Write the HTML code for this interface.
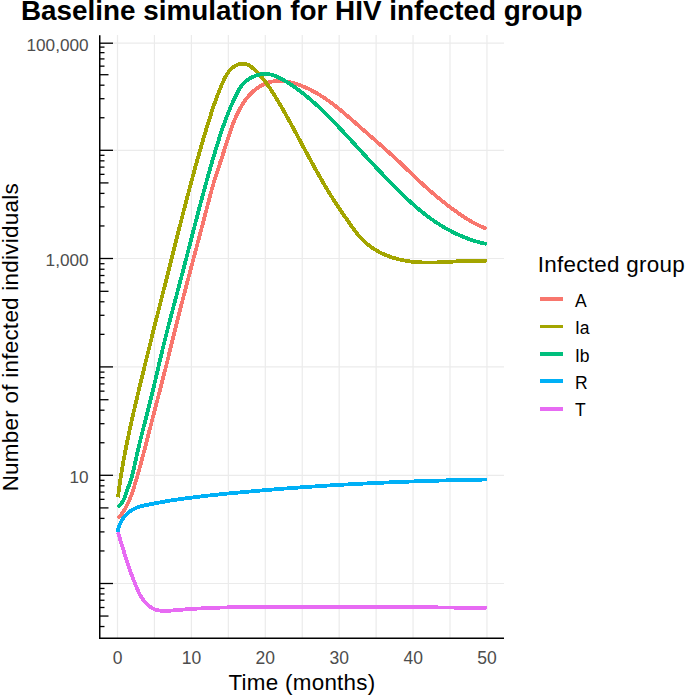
<!DOCTYPE html>
<html><head><meta charset="utf-8"><title>Baseline simulation for HIV infected group</title>
<style>html,body{margin:0;padding:0;background:#fff;}body{width:685px;height:695px;overflow:hidden;}svg{display:block;}text{font-family:"Liberation Sans",sans-serif;}</style>
</head><body>
<svg width="685" height="695" viewBox="0 0 685 695"><g stroke="#EBEBEB" stroke-width="1.2"><line x1="117.50" y1="35" x2="117.50" y2="638"/><line x1="154.44" y1="35" x2="154.44" y2="638"/><line x1="191.39" y1="35" x2="191.39" y2="638"/><line x1="228.34" y1="35" x2="228.34" y2="638"/><line x1="265.28" y1="35" x2="265.28" y2="638"/><line x1="302.23" y1="35" x2="302.23" y2="638"/><line x1="339.17" y1="35" x2="339.17" y2="638"/><line x1="376.12" y1="35" x2="376.12" y2="638"/><line x1="413.06" y1="35" x2="413.06" y2="638"/><line x1="450.00" y1="35" x2="450.00" y2="638"/><line x1="486.95" y1="35" x2="486.95" y2="638"/><line x1="99" y1="583.50" x2="504" y2="583.50"/><line x1="99" y1="475.30" x2="504" y2="475.30"/><line x1="99" y1="366.90" x2="504" y2="366.90"/><line x1="99" y1="258.50" x2="504" y2="258.50"/><line x1="99" y1="150.30" x2="504" y2="150.30"/><line x1="99" y1="43.20" x2="504" y2="43.20"/></g>
<path d="M117.78 518.57 L118.64 517.63 L119.47 516.68 L120.27 515.72 L121.04 514.74 L121.79 513.74 L122.51 512.74 L123.21 511.72 L123.88 510.69 L124.53 509.64 L125.16 508.59 L125.76 507.52 L126.35 506.45 L126.91 505.36 L127.46 504.27 L127.99 503.16 L128.50 502.05 L129.00 500.93 L129.48 499.80 L129.95 498.67 L130.40 497.53 L130.84 496.38 L131.27 495.23 L131.69 494.07 L132.10 492.91 L132.50 491.74 L132.89 490.57 L133.27 489.40 L133.65 488.23 L134.02 487.05 L134.39 485.87 L134.76 484.69 L135.12 483.51 L135.48 482.33 L135.84 481.15 L136.19 479.97 L136.54 478.79 L136.89 477.61 L137.24 476.42 L137.58 475.24 L137.92 474.05 L138.26 472.87 L138.60 471.68 L138.93 470.50 L139.26 469.31 L139.59 468.12 L139.92 466.94 L140.25 465.75 L140.58 464.56 L140.90 463.37 L141.22 462.18 L141.54 460.99 L141.86 459.80 L142.18 458.61 L142.49 457.42 L142.81 456.23 L143.12 455.04 L143.43 453.85 L143.75 452.66 L144.06 451.47 L144.37 450.28 L144.68 449.09 L144.98 447.89 L145.29 446.70 L145.60 445.51 L145.91 444.32 L146.21 443.12 L146.52 441.93 L146.82 440.74 L147.13 439.55 L147.43 438.35 L147.74 437.16 L148.04 435.97 L148.35 434.77 L148.65 433.58 L148.96 432.39 L149.26 431.20 L149.57 430.00 L149.88 428.81 L150.19 427.62 L150.49 426.43 L150.80 425.23 L151.11 424.04 L151.42 422.85 L151.73 421.66 L152.04 420.46 L152.35 419.27 L152.66 418.08 L152.97 416.89 L153.28 415.70 L153.59 414.50 L153.90 413.31 L154.21 412.12 L154.52 410.93 L154.83 409.74 L155.14 408.54 L155.45 407.35 L155.76 406.16 L156.08 404.97 L156.39 403.78 L156.70 402.58 L157.01 401.39 L157.32 400.20 L157.63 399.01 L157.94 397.82 L158.25 396.62 L158.56 395.43 L158.87 394.24 L159.18 393.05 L159.49 391.86 L159.80 390.66 L160.11 389.47 L160.42 388.28 L160.73 387.09 L161.04 385.89 L161.35 384.70 L161.66 383.51 L161.96 382.31 L162.27 381.12 L162.58 379.93 L162.88 378.73 L163.19 377.54 L163.49 376.35 L163.80 375.15 L164.10 373.96 L164.40 372.76 L164.71 371.57 L165.01 370.38 L165.31 369.18 L165.61 367.99 L165.91 366.79 L166.21 365.60 L166.51 364.40 L166.81 363.21 L167.10 362.01 L167.40 360.82 L167.70 359.62 L168.00 358.43 L168.29 357.23 L168.59 356.03 L168.88 354.84 L169.18 353.64 L169.47 352.45 L169.77 351.25 L170.06 350.05 L170.36 348.86 L170.65 347.66 L170.95 346.47 L171.24 345.27 L171.53 344.07 L171.83 342.88 L172.12 341.68 L172.42 340.49 L172.71 339.29 L173.00 338.09 L173.30 336.90 L173.59 335.70 L173.89 334.51 L174.18 333.31 L174.48 332.12 L174.78 330.92 L175.07 329.72 L175.37 328.53 L175.66 327.33 L175.96 326.14 L176.26 324.94 L176.56 323.75 L176.86 322.55 L177.16 321.36 L177.45 320.16 L177.76 318.97 L178.06 317.78 L178.36 316.58 L178.66 315.39 L178.96 314.19 L179.27 313.00 L179.57 311.81 L179.87 310.61 L180.18 309.42 L180.48 308.23 L180.79 307.03 L181.10 305.84 L181.40 304.65 L181.71 303.46 L182.02 302.26 L182.33 301.07 L182.64 299.88 L182.94 298.69 L183.25 297.50 L183.56 296.30 L183.87 295.11 L184.19 293.92 L184.50 292.73 L184.81 291.54 L185.12 290.35 L185.43 289.15 L185.74 287.96 L186.06 286.77 L186.37 285.58 L186.68 284.39 L187.00 283.20 L187.31 282.01 L187.62 280.82 L187.94 279.63 L188.25 278.43 L188.57 277.24 L188.88 276.05 L189.20 274.86 L189.51 273.67 L189.83 272.48 L190.15 271.29 L190.46 270.10 L190.78 268.91 L191.10 267.72 L191.41 266.53 L191.73 265.34 L192.04 264.15 L192.36 262.96 L192.68 261.77 L193.00 260.58 L193.31 259.39 L193.63 258.20 L193.95 257.00 L194.26 255.81 L194.58 254.62 L194.90 253.43 L195.22 252.24 L195.53 251.05 L195.85 249.86 L196.17 248.67 L196.48 247.48 L196.80 246.29 L197.12 245.10 L197.43 243.91 L197.75 242.72 L198.07 241.53 L198.38 240.34 L198.70 239.14 L199.02 237.95 L199.33 236.76 L199.65 235.57 L199.97 234.38 L200.28 233.19 L200.60 232.00 L200.91 230.81 L201.23 229.61 L201.54 228.42 L201.86 227.23 L202.17 226.04 L202.49 224.85 L202.80 223.66 L203.11 222.46 L203.43 221.27 L203.74 220.08 L204.05 218.89 L204.36 217.69 L204.68 216.50 L204.99 215.31 L205.30 214.12 L205.61 212.92 L205.92 211.73 L206.23 210.54 L206.54 209.34 L206.85 208.15 L207.16 206.96 L207.47 205.76 L207.78 204.57 L208.09 203.37 L208.40 202.18 L208.71 200.99 L209.02 199.80 L209.34 198.61 L209.65 197.41 L209.97 196.22 L210.29 195.03 L210.60 193.84 L210.93 192.66 L211.25 191.47 L211.58 190.28 L211.90 189.10 L212.23 187.91 L212.57 186.73 L212.91 185.55 L213.25 184.37 L213.59 183.19 L213.94 182.01 L214.29 180.83 L214.64 179.66 L215.00 178.48 L215.36 177.31 L215.73 176.14 L216.10 174.97 L216.47 173.81 L216.84 172.64 L217.22 171.47 L217.60 170.31 L217.98 169.14 L218.37 167.98 L218.75 166.81 L219.14 165.65 L219.53 164.48 L219.92 163.32 L220.30 162.16 L220.69 160.99 L221.08 159.82 L221.47 158.66 L221.86 157.49 L222.25 156.32 L222.63 155.15 L223.02 153.98 L223.40 152.81 L223.79 151.63 L224.17 150.46 L224.55 149.28 L224.92 148.10 L225.30 146.91 L225.67 145.73 L226.04 144.55 L226.42 143.36 L226.79 142.18 L227.16 140.99 L227.54 139.81 L227.91 138.62 L228.29 137.44 L228.67 136.26 L229.06 135.08 L229.44 133.90 L229.84 132.72 L230.23 131.54 L230.63 130.37 L231.04 129.20 L231.45 128.03 L231.87 126.87 L232.30 125.71 L232.73 124.55 L233.17 123.40 L233.62 122.26 L234.07 121.11 L234.54 119.98 L235.01 118.84 L235.50 117.72 L235.99 116.60 L236.50 115.48 L237.02 114.37 L237.55 113.27 L238.09 112.18 L238.65 111.09 L239.21 110.02 L239.79 108.94 L240.39 107.88 L241.00 106.83 L241.63 105.78 L242.27 104.75 L242.92 103.72 L243.60 102.70 L244.29 101.70 L244.99 100.70 L245.72 99.72 L246.46 98.74 L247.23 97.78 L248.01 96.83 L248.81 95.90 L249.63 94.98 L250.47 94.08 L251.33 93.20 L252.21 92.33 L253.12 91.49 L254.04 90.67 L254.99 89.87 L255.96 89.10 L256.96 88.35 L257.97 87.62 L259.01 86.93 L260.08 86.26 L261.16 85.63 L262.26 85.03 L263.38 84.46 L264.51 83.94 L265.66 83.45 L266.81 83.01 L267.98 82.62 L269.15 82.27 L270.32 81.96 L271.50 81.70 L272.69 81.48 L273.88 81.30 L275.08 81.16 L276.28 81.06 L277.48 80.99 L278.69 80.96 L279.90 80.97 L281.11 81.01 L282.32 81.09 L283.53 81.19 L284.75 81.33 L285.96 81.49 L287.17 81.69 L288.38 81.91 L289.59 82.15 L290.79 82.42 L291.99 82.72 L293.19 83.04 L294.39 83.38 L295.58 83.74 L296.76 84.12 L297.94 84.51 L299.11 84.93 L300.28 85.36 L301.44 85.80 L302.59 86.26 L303.73 86.73 L304.87 87.21 L305.99 87.71 L307.12 88.22 L308.23 88.74 L309.34 89.28 L310.44 89.82 L311.53 90.38 L312.62 90.95 L313.70 91.53 L314.77 92.12 L315.84 92.72 L316.90 93.33 L317.96 93.95 L319.01 94.58 L320.05 95.22 L321.09 95.87 L322.12 96.53 L323.15 97.20 L324.17 97.88 L325.19 98.56 L326.21 99.26 L327.21 99.96 L328.22 100.66 L329.22 101.38 L330.21 102.10 L331.20 102.83 L332.19 103.57 L333.17 104.31 L334.15 105.06 L335.13 105.81 L336.10 106.58 L337.07 107.34 L338.03 108.11 L339.00 108.89 L339.95 109.67 L340.91 110.45 L341.86 111.24 L342.82 112.03 L343.76 112.83 L344.71 113.63 L345.65 114.43 L346.60 115.24 L347.54 116.04 L348.47 116.86 L349.41 117.67 L350.34 118.48 L351.28 119.30 L352.21 120.12 L353.14 120.93 L354.07 121.75 L355.00 122.57 L355.93 123.40 L356.86 124.22 L357.78 125.04 L358.71 125.86 L359.64 126.68 L360.56 127.50 L361.49 128.31 L362.41 129.13 L363.34 129.94 L364.27 130.76 L365.20 131.57 L366.12 132.38 L367.05 133.19 L367.98 134.01 L368.90 134.81 L369.83 135.62 L370.76 136.43 L371.68 137.24 L372.61 138.05 L373.53 138.86 L374.46 139.66 L375.38 140.47 L376.31 141.28 L377.23 142.09 L378.15 142.90 L379.07 143.71 L380.00 144.51 L380.92 145.32 L381.84 146.14 L382.76 146.95 L383.67 147.76 L384.59 148.57 L385.51 149.39 L386.42 150.20 L387.34 151.02 L388.25 151.84 L389.16 152.66 L390.07 153.48 L390.98 154.31 L391.89 155.13 L392.80 155.96 L393.71 156.79 L394.61 157.62 L395.51 158.45 L396.41 159.29 L397.31 160.13 L398.21 160.97 L399.11 161.81 L400.00 162.66 L400.90 163.51 L401.79 164.36 L402.68 165.21 L403.58 166.06 L404.47 166.91 L405.36 167.77 L406.25 168.62 L407.14 169.48 L408.03 170.33 L408.92 171.19 L409.81 172.05 L410.70 172.90 L411.59 173.76 L412.48 174.61 L413.37 175.47 L414.27 176.32 L415.16 177.18 L416.05 178.03 L416.95 178.88 L417.85 179.73 L418.75 180.57 L419.65 181.42 L420.55 182.26 L421.45 183.10 L422.36 183.94 L423.27 184.78 L424.18 185.61 L425.09 186.44 L426.01 187.27 L426.93 188.09 L427.85 188.91 L428.77 189.73 L429.70 190.54 L430.62 191.35 L431.55 192.16 L432.49 192.96 L433.42 193.77 L434.36 194.56 L435.30 195.36 L436.24 196.15 L437.19 196.94 L438.14 197.72 L439.09 198.50 L440.04 199.28 L441.00 200.06 L441.95 200.83 L442.91 201.59 L443.88 202.36 L444.85 203.12 L445.82 203.87 L446.79 204.62 L447.76 205.37 L448.74 206.12 L449.72 206.86 L450.71 207.60 L451.69 208.33 L452.68 209.06 L453.67 209.78 L454.67 210.50 L455.67 211.22 L456.67 211.94 L457.67 212.64 L458.68 213.35 L459.69 214.05 L460.70 214.75 L461.72 215.44 L462.74 216.12 L463.77 216.80 L464.80 217.47 L465.83 218.14 L466.87 218.79 L467.91 219.44 L468.96 220.08 L470.02 220.71 L471.08 221.34 L472.15 221.95 L473.22 222.55 L474.30 223.14 L475.39 223.72 L476.48 224.29 L477.58 224.84 L478.69 225.39 L479.80 225.92 L480.93 226.43 L482.06 226.93 L483.20 227.42 L484.35 227.89 L485.51 228.35 L486.67 228.79" fill="none" stroke="#F8766D" stroke-width="3.80" stroke-linejoin="round" stroke-linecap="butt" shape-rendering="crispEdges"/>
<path d="M117.99 497.41 L118.15 496.07 L118.31 494.74 L118.47 493.40 L118.64 492.07 L118.81 490.74 L118.98 489.41 L119.16 488.07 L119.34 486.74 L119.53 485.41 L119.71 484.09 L119.90 482.76 L120.09 481.43 L120.29 480.10 L120.49 478.77 L120.69 477.45 L120.90 476.12 L121.10 474.80 L121.32 473.47 L121.53 472.15 L121.75 470.83 L121.96 469.50 L122.19 468.18 L122.41 466.86 L122.64 465.54 L122.87 464.22 L123.10 462.90 L123.33 461.58 L123.57 460.26 L123.81 458.94 L124.05 457.62 L124.30 456.30 L124.54 454.99 L124.79 453.67 L125.05 452.35 L125.30 451.04 L125.55 449.72 L125.81 448.41 L126.07 447.09 L126.33 445.78 L126.60 444.46 L126.86 443.15 L127.13 441.84 L127.40 440.52 L127.67 439.21 L127.95 437.90 L128.22 436.59 L128.50 435.28 L128.78 433.97 L129.06 432.65 L129.34 431.34 L129.62 430.03 L129.91 428.72 L130.19 427.41 L130.48 426.11 L130.77 424.80 L131.06 423.49 L131.35 422.18 L131.65 420.87 L131.94 419.56 L132.24 418.25 L132.53 416.95 L132.83 415.64 L133.13 414.33 L133.43 413.03 L133.73 411.72 L134.03 410.41 L134.34 409.11 L134.64 407.80 L134.95 406.49 L135.25 405.19 L135.56 403.88 L135.87 402.58 L136.18 401.27 L136.48 399.97 L136.79 398.66 L137.10 397.35 L137.41 396.05 L137.73 394.74 L138.04 393.44 L138.35 392.13 L138.66 390.83 L138.98 389.52 L139.29 388.22 L139.60 386.91 L139.92 385.61 L140.23 384.31 L140.55 383.00 L140.86 381.70 L141.18 380.39 L141.49 379.09 L141.81 377.78 L142.12 376.48 L142.44 375.17 L142.76 373.87 L143.07 372.57 L143.39 371.26 L143.71 369.96 L144.03 368.65 L144.35 367.35 L144.66 366.05 L144.98 364.74 L145.30 363.44 L145.62 362.14 L145.94 360.83 L146.26 359.53 L146.58 358.23 L146.90 356.92 L147.22 355.62 L147.54 354.32 L147.87 353.01 L148.19 351.71 L148.51 350.41 L148.83 349.11 L149.15 347.80 L149.48 346.50 L149.80 345.20 L150.12 343.90 L150.45 342.59 L150.77 341.29 L151.09 339.99 L151.42 338.69 L151.74 337.39 L152.06 336.09 L152.39 334.78 L152.71 333.48 L153.04 332.18 L153.36 330.88 L153.69 329.58 L154.01 328.28 L154.34 326.98 L154.67 325.68 L154.99 324.38 L155.32 323.08 L155.64 321.78 L155.97 320.48 L156.30 319.18 L156.62 317.88 L156.95 316.58 L157.28 315.28 L157.60 313.98 L157.93 312.69 L158.26 311.39 L158.59 310.09 L158.91 308.79 L159.24 307.49 L159.57 306.19 L159.90 304.89 L160.23 303.60 L160.55 302.30 L160.88 301.00 L161.21 299.70 L161.54 298.40 L161.87 297.11 L162.20 295.81 L162.53 294.51 L162.85 293.21 L163.18 291.91 L163.51 290.62 L163.84 289.32 L164.17 288.02 L164.50 286.72 L164.83 285.42 L165.16 284.13 L165.49 282.83 L165.81 281.53 L166.14 280.23 L166.47 278.93 L166.80 277.64 L167.13 276.34 L167.46 275.04 L167.79 273.74 L168.12 272.44 L168.45 271.14 L168.77 269.84 L169.10 268.54 L169.43 267.24 L169.76 265.95 L170.09 264.65 L170.42 263.35 L170.75 262.05 L171.07 260.75 L171.40 259.45 L171.73 258.15 L172.06 256.84 L172.39 255.54 L172.71 254.24 L173.04 252.94 L173.37 251.64 L173.70 250.34 L174.03 249.04 L174.35 247.74 L174.68 246.43 L175.01 245.13 L175.34 243.83 L175.67 242.53 L175.99 241.23 L176.32 239.92 L176.65 238.62 L176.98 237.32 L177.31 236.02 L177.64 234.72 L177.97 233.41 L178.30 232.11 L178.63 230.81 L178.96 229.51 L179.29 228.20 L179.62 226.90 L179.95 225.60 L180.28 224.30 L180.61 222.99 L180.94 221.69 L181.27 220.39 L181.60 219.09 L181.94 217.79 L182.27 216.48 L182.60 215.18 L182.93 213.88 L183.27 212.58 L183.60 211.28 L183.94 209.97 L184.27 208.67 L184.61 207.37 L184.94 206.07 L185.28 204.77 L185.62 203.47 L185.95 202.17 L186.29 200.87 L186.63 199.57 L186.97 198.27 L187.31 196.97 L187.65 195.67 L187.99 194.37 L188.33 193.07 L188.67 191.77 L189.02 190.47 L189.36 189.18 L189.70 187.88 L190.05 186.58 L190.39 185.28 L190.74 183.98 L191.08 182.69 L191.43 181.39 L191.78 180.09 L192.13 178.80 L192.48 177.50 L192.83 176.21 L193.18 174.91 L193.53 173.62 L193.88 172.32 L194.24 171.03 L194.59 169.74 L194.95 168.44 L195.30 167.15 L195.66 165.86 L196.02 164.57 L196.37 163.28 L196.73 161.98 L197.10 160.69 L197.46 159.40 L197.82 158.11 L198.18 156.82 L198.55 155.54 L198.91 154.25 L199.28 152.96 L199.65 151.67 L200.01 150.39 L200.38 149.10 L200.75 147.81 L201.13 146.53 L201.50 145.24 L201.87 143.96 L202.25 142.68 L202.62 141.39 L203.00 140.11 L203.38 138.83 L203.76 137.55 L204.14 136.27 L204.52 134.99 L204.91 133.71 L205.29 132.43 L205.68 131.15 L206.06 129.87 L206.45 128.60 L206.84 127.32 L207.23 126.04 L207.62 124.77 L208.02 123.49 L208.41 122.22 L208.81 120.95 L209.21 119.68 L209.61 118.40 L210.01 117.13 L210.41 115.86 L210.82 114.59 L211.22 113.33 L211.63 112.06 L212.05 110.79 L212.46 109.52 L212.89 108.26 L213.31 106.99 L213.74 105.73 L214.17 104.46 L214.61 103.20 L215.05 101.93 L215.50 100.67 L215.96 99.41 L216.42 98.15 L216.88 96.89 L217.35 95.62 L217.83 94.36 L218.32 93.10 L218.81 91.84 L219.31 90.59 L219.82 89.33 L220.34 88.07 L220.86 86.81 L221.40 85.55 L221.94 84.29 L222.49 83.04 L223.05 81.78 L223.62 80.53 L224.21 79.29 L224.82 78.07 L225.46 76.86 L226.12 75.68 L226.80 74.52 L227.52 73.39 L228.28 72.31 L229.07 71.26 L229.91 70.25 L230.79 69.30 L231.72 68.40 L232.71 67.56 L233.74 66.78 L234.84 66.07 L235.99 65.43 L237.21 64.87 L238.46 64.40 L239.75 64.03 L241.05 63.77 L242.36 63.64 L243.66 63.63 L244.94 63.77 L246.18 64.07 L247.38 64.50 L248.55 65.07 L249.68 65.74 L250.79 66.51 L251.86 67.34 L252.91 68.22 L253.94 69.14 L254.95 70.07 L255.94 71.02 L256.90 71.98 L257.85 72.95 L258.79 73.93 L259.70 74.93 L260.60 75.94 L261.48 76.96 L262.35 77.99 L263.20 79.03 L264.04 80.08 L264.87 81.14 L265.68 82.21 L266.48 83.29 L267.27 84.37 L268.05 85.46 L268.81 86.56 L269.57 87.67 L270.32 88.78 L271.06 89.89 L271.79 91.02 L272.52 92.14 L273.24 93.27 L273.95 94.41 L274.66 95.55 L275.36 96.69 L276.06 97.83 L276.75 98.97 L277.44 100.12 L278.13 101.27 L278.82 102.42 L279.50 103.57 L280.17 104.72 L280.85 105.88 L281.52 107.03 L282.19 108.19 L282.85 109.35 L283.51 110.51 L284.17 111.68 L284.83 112.84 L285.49 114.01 L286.14 115.17 L286.79 116.34 L287.44 117.51 L288.09 118.68 L288.73 119.85 L289.38 121.02 L290.02 122.20 L290.66 123.37 L291.30 124.54 L291.94 125.72 L292.58 126.90 L293.22 128.07 L293.85 129.25 L294.49 130.43 L295.12 131.61 L295.76 132.78 L296.39 133.96 L297.03 135.14 L297.66 136.32 L298.29 137.50 L298.93 138.68 L299.56 139.86 L300.19 141.04 L300.83 142.22 L301.46 143.40 L302.09 144.58 L302.73 145.76 L303.36 146.94 L304.00 148.12 L304.63 149.30 L305.27 150.48 L305.91 151.66 L306.54 152.84 L307.18 154.02 L307.82 155.20 L308.46 156.38 L309.10 157.56 L309.74 158.74 L310.38 159.92 L311.03 161.09 L311.67 162.27 L312.32 163.45 L312.96 164.62 L313.61 165.80 L314.26 166.97 L314.91 168.15 L315.56 169.32 L316.22 170.49 L316.87 171.67 L317.53 172.84 L318.19 174.01 L318.85 175.18 L319.51 176.35 L320.18 177.51 L320.85 178.68 L321.51 179.84 L322.19 181.00 L322.86 182.16 L323.54 183.32 L324.21 184.48 L324.89 185.64 L325.58 186.79 L326.26 187.94 L326.95 189.09 L327.64 190.24 L328.34 191.39 L329.04 192.53 L329.74 193.67 L330.44 194.81 L331.15 195.95 L331.86 197.08 L332.57 198.21 L333.29 199.34 L334.01 200.47 L334.73 201.59 L335.46 202.71 L336.19 203.82 L336.92 204.94 L337.66 206.05 L338.40 207.16 L339.15 208.26 L339.90 209.37 L340.65 210.47 L341.40 211.57 L342.16 212.67 L342.91 213.78 L343.67 214.88 L344.44 215.98 L345.20 217.08 L345.97 218.18 L346.74 219.29 L347.50 220.40 L348.27 221.50 L349.05 222.61 L349.82 223.73 L350.60 224.84 L351.38 225.94 L352.17 227.05 L352.96 228.15 L353.76 229.24 L354.57 230.33 L355.38 231.41 L356.21 232.48 L357.05 233.54 L357.90 234.58 L358.77 235.62 L359.64 236.63 L360.54 237.64 L361.45 238.62 L362.37 239.58 L363.31 240.53 L364.28 241.45 L365.26 242.35 L366.26 243.23 L367.28 244.09 L368.31 244.93 L369.37 245.74 L370.43 246.54 L371.52 247.31 L372.62 248.06 L373.73 248.79 L374.86 249.50 L376.01 250.19 L377.16 250.86 L378.33 251.51 L379.51 252.14 L380.71 252.75 L381.91 253.34 L383.13 253.90 L384.35 254.45 L385.59 254.98 L386.83 255.49 L388.08 255.98 L389.35 256.45 L390.61 256.90 L391.89 257.33 L393.17 257.75 L394.46 258.14 L395.75 258.52 L397.05 258.87 L398.36 259.21 L399.67 259.53 L400.98 259.84 L402.29 260.12 L403.61 260.38 L404.93 260.63 L406.25 260.86 L407.57 261.08 L408.89 261.27 L410.22 261.45 L411.54 261.62 L412.87 261.77 L414.20 261.90 L415.53 262.02 L416.86 262.13 L418.19 262.22 L419.52 262.30 L420.86 262.37 L422.19 262.42 L423.53 262.47 L424.87 262.50 L426.21 262.53 L427.54 262.54 L428.88 262.55 L430.22 262.54 L431.57 262.53 L432.91 262.51 L434.25 262.48 L435.59 262.45 L436.94 262.40 L438.28 262.36 L439.62 262.31 L440.97 262.25 L442.31 262.19 L443.66 262.12 L445.00 262.05 L446.35 261.98 L447.69 261.91 L449.04 261.83 L450.39 261.75 L451.73 261.67 L453.08 261.59 L454.42 261.52 L455.77 261.44 L457.11 261.36 L458.46 261.28 L459.81 261.21 L461.15 261.14 L462.49 261.07 L463.84 261.01 L465.18 260.94 L466.52 260.89 L467.87 260.84 L469.21 260.79 L470.55 260.75 L471.89 260.72 L473.23 260.69 L474.57 260.67 L475.91 260.66 L477.24 260.66 L478.58 260.66 L479.92 260.68 L481.25 260.70 L482.58 260.74 L483.92 260.78 L485.25 260.84 L486.58 260.91" fill="none" stroke="#A3A500" stroke-width="3.80" stroke-linejoin="round" stroke-linecap="butt" shape-rendering="crispEdges"/>
<path d="M117.60 506.85 L118.70 506.11 L119.70 505.30 L120.59 504.42 L121.40 503.49 L122.13 502.50 L122.79 501.47 L123.38 500.39 L123.92 499.28 L124.42 498.14 L124.88 496.97 L125.31 495.78 L125.72 494.59 L126.12 493.38 L126.52 492.18 L126.92 490.97 L127.33 489.78 L127.75 488.59 L128.18 487.40 L128.60 486.21 L129.03 485.03 L129.45 483.85 L129.87 482.67 L130.28 481.49 L130.68 480.31 L131.07 479.13 L131.45 477.94 L131.82 476.75 L132.16 475.55 L132.49 474.35 L132.79 473.14 L133.08 471.93 L133.36 470.71 L133.63 469.49 L133.90 468.27 L134.17 467.05 L134.44 465.83 L134.72 464.60 L134.99 463.38 L135.26 462.16 L135.53 460.93 L135.81 459.71 L136.08 458.49 L136.35 457.26 L136.63 456.04 L136.91 454.81 L137.18 453.59 L137.46 452.36 L137.74 451.14 L138.02 449.91 L138.31 448.69 L138.59 447.46 L138.88 446.24 L139.16 445.02 L139.45 443.79 L139.75 442.57 L140.04 441.35 L140.34 440.13 L140.64 438.91 L140.94 437.69 L141.24 436.47 L141.55 435.25 L141.85 434.03 L142.16 432.81 L142.47 431.60 L142.78 430.38 L143.10 429.16 L143.41 427.95 L143.73 426.73 L144.04 425.52 L144.36 424.30 L144.67 423.08 L144.99 421.87 L145.31 420.65 L145.62 419.44 L145.94 418.22 L146.26 417.01 L146.57 415.79 L146.89 414.58 L147.20 413.36 L147.51 412.15 L147.83 410.93 L148.14 409.71 L148.45 408.50 L148.75 407.28 L149.06 406.06 L149.36 404.84 L149.67 403.62 L149.97 402.41 L150.27 401.19 L150.57 399.97 L150.87 398.75 L151.17 397.53 L151.46 396.31 L151.76 395.09 L152.05 393.86 L152.35 392.64 L152.64 391.42 L152.93 390.20 L153.22 388.98 L153.51 387.76 L153.80 386.54 L154.09 385.31 L154.38 384.09 L154.67 382.87 L154.96 381.65 L155.25 380.42 L155.53 379.20 L155.82 377.98 L156.11 376.75 L156.39 375.53 L156.68 374.31 L156.97 373.08 L157.25 371.86 L157.54 370.64 L157.82 369.41 L158.11 368.19 L158.40 366.97 L158.68 365.74 L158.97 364.52 L159.26 363.30 L159.55 362.08 L159.83 360.85 L160.12 359.63 L160.41 358.41 L160.70 357.18 L160.99 355.96 L161.28 354.74 L161.57 353.52 L161.86 352.30 L162.16 351.07 L162.45 349.85 L162.74 348.63 L163.04 347.41 L163.33 346.19 L163.63 344.97 L163.93 343.75 L164.23 342.53 L164.53 341.31 L164.83 340.09 L165.13 338.87 L165.44 337.65 L165.74 336.43 L166.05 335.21 L166.36 333.99 L166.67 332.77 L166.98 331.56 L167.29 330.34 L167.60 329.12 L167.91 327.90 L168.23 326.69 L168.54 325.47 L168.86 324.25 L169.17 323.04 L169.49 321.82 L169.81 320.61 L170.12 319.39 L170.44 318.18 L170.76 316.96 L171.08 315.74 L171.40 314.53 L171.72 313.31 L172.05 312.10 L172.37 310.88 L172.69 309.67 L173.01 308.46 L173.34 307.24 L173.66 306.03 L173.98 304.81 L174.31 303.60 L174.63 302.38 L174.96 301.17 L175.28 299.96 L175.61 298.74 L175.93 297.53 L176.26 296.31 L176.58 295.10 L176.91 293.88 L177.23 292.67 L177.55 291.46 L177.88 290.24 L178.20 289.03 L178.53 287.81 L178.85 286.60 L179.17 285.38 L179.50 284.17 L179.82 282.96 L180.14 281.74 L180.46 280.53 L180.78 279.31 L181.10 278.10 L181.42 276.88 L181.74 275.67 L182.06 274.45 L182.38 273.23 L182.70 272.02 L183.02 270.80 L183.34 269.59 L183.66 268.37 L183.97 267.16 L184.29 265.94 L184.61 264.72 L184.92 263.51 L185.24 262.29 L185.55 261.08 L185.87 259.86 L186.18 258.64 L186.50 257.43 L186.81 256.21 L187.13 254.99 L187.44 253.78 L187.76 252.56 L188.07 251.35 L188.39 250.13 L188.70 248.91 L189.01 247.70 L189.33 246.48 L189.64 245.26 L189.96 244.05 L190.27 242.83 L190.58 241.61 L190.90 240.40 L191.21 239.18 L191.53 237.96 L191.84 236.75 L192.16 235.53 L192.47 234.31 L192.78 233.10 L193.10 231.88 L193.41 230.67 L193.73 229.45 L194.04 228.23 L194.36 227.02 L194.68 225.80 L194.99 224.59 L195.31 223.37 L195.62 222.15 L195.94 220.94 L196.26 219.72 L196.58 218.51 L196.89 217.29 L197.21 216.08 L197.53 214.86 L197.85 213.65 L198.17 212.43 L198.49 211.22 L198.81 210.00 L199.13 208.79 L199.45 207.57 L199.77 206.36 L200.09 205.14 L200.42 203.93 L200.74 202.72 L201.06 201.50 L201.39 200.29 L201.71 199.07 L202.04 197.86 L202.37 196.65 L202.69 195.43 L203.02 194.22 L203.35 193.01 L203.68 191.80 L204.01 190.58 L204.34 189.37 L204.67 188.16 L205.00 186.95 L205.33 185.74 L205.67 184.52 L206.00 183.31 L206.34 182.10 L206.67 180.89 L207.01 179.68 L207.35 178.47 L207.69 177.26 L208.03 176.05 L208.37 174.84 L208.71 173.63 L209.05 172.42 L209.39 171.21 L209.74 170.00 L210.08 168.80 L210.43 167.59 L210.78 166.38 L211.13 165.17 L211.48 163.96 L211.83 162.76 L212.18 161.55 L212.53 160.34 L212.89 159.14 L213.24 157.93 L213.60 156.73 L213.96 155.52 L214.32 154.31 L214.68 153.11 L215.04 151.91 L215.40 150.70 L215.77 149.50 L216.13 148.29 L216.50 147.09 L216.87 145.89 L217.24 144.69 L217.61 143.48 L217.98 142.28 L218.36 141.08 L218.74 139.88 L219.12 138.68 L219.50 137.49 L219.89 136.29 L220.28 135.09 L220.67 133.90 L221.06 132.70 L221.46 131.51 L221.86 130.32 L222.26 129.13 L222.67 127.94 L223.08 126.75 L223.49 125.57 L223.91 124.38 L224.33 123.20 L224.76 122.02 L225.19 120.84 L225.63 119.66 L226.06 118.48 L226.51 117.31 L226.96 116.14 L227.41 114.97 L227.87 113.80 L228.33 112.63 L228.80 111.47 L229.27 110.30 L229.75 109.14 L230.23 107.99 L230.72 106.83 L231.22 105.68 L231.72 104.53 L232.23 103.38 L232.74 102.24 L233.26 101.09 L233.79 99.95 L234.32 98.82 L234.86 97.68 L235.41 96.55 L235.96 95.42 L236.52 94.30 L237.09 93.17 L237.67 92.06 L238.26 90.95 L238.88 89.86 L239.51 88.79 L240.17 87.73 L240.86 86.70 L241.58 85.70 L242.33 84.72 L243.13 83.78 L243.97 82.88 L244.86 82.02 L245.80 81.20 L246.79 80.43 L247.82 79.70 L248.89 79.01 L249.99 78.36 L251.13 77.75 L252.29 77.18 L253.46 76.64 L254.66 76.15 L255.86 75.68 L257.07 75.26 L258.30 74.89 L259.52 74.56 L260.75 74.29 L261.99 74.07 L263.22 73.92 L264.45 73.83 L265.68 73.81 L266.90 73.86 L268.12 73.99 L269.33 74.20 L270.53 74.46 L271.72 74.79 L272.91 75.16 L274.09 75.58 L275.26 76.04 L276.42 76.54 L277.57 77.06 L278.71 77.60 L279.84 78.15 L280.97 78.73 L282.08 79.31 L283.19 79.92 L284.29 80.54 L285.38 81.17 L286.46 81.81 L287.54 82.47 L288.60 83.14 L289.66 83.82 L290.72 84.51 L291.77 85.21 L292.81 85.92 L293.84 86.63 L294.87 87.36 L295.90 88.09 L296.91 88.82 L297.93 89.57 L298.94 90.32 L299.94 91.07 L300.94 91.83 L301.93 92.60 L302.92 93.37 L303.90 94.15 L304.88 94.93 L305.85 95.72 L306.82 96.51 L307.78 97.31 L308.74 98.11 L309.70 98.92 L310.65 99.74 L311.60 100.56 L312.54 101.38 L313.48 102.21 L314.42 103.04 L315.35 103.88 L316.28 104.72 L317.20 105.56 L318.12 106.41 L319.04 107.26 L319.96 108.12 L320.87 108.98 L321.78 109.84 L322.68 110.71 L323.58 111.58 L324.48 112.46 L325.38 113.33 L326.27 114.22 L327.16 115.10 L328.05 115.99 L328.93 116.88 L329.82 117.77 L330.70 118.66 L331.58 119.56 L332.45 120.46 L333.33 121.36 L334.20 122.27 L335.07 123.17 L335.94 124.08 L336.80 124.99 L337.67 125.91 L338.53 126.82 L339.39 127.74 L340.25 128.65 L341.11 129.57 L341.97 130.49 L342.83 131.42 L343.68 132.34 L344.54 133.26 L345.39 134.19 L346.24 135.11 L347.09 136.04 L347.95 136.96 L348.80 137.89 L349.65 138.82 L350.50 139.75 L351.35 140.68 L352.20 141.61 L353.05 142.53 L353.89 143.46 L354.74 144.39 L355.59 145.32 L356.44 146.25 L357.29 147.17 L358.14 148.10 L358.99 149.03 L359.84 149.95 L360.69 150.88 L361.55 151.80 L362.40 152.73 L363.25 153.65 L364.10 154.58 L364.95 155.50 L365.81 156.42 L366.66 157.34 L367.52 158.26 L368.37 159.18 L369.23 160.10 L370.08 161.02 L370.94 161.94 L371.80 162.86 L372.66 163.78 L373.51 164.69 L374.37 165.61 L375.23 166.52 L376.09 167.43 L376.96 168.35 L377.82 169.26 L378.68 170.17 L379.54 171.08 L380.41 171.99 L381.28 172.90 L382.14 173.81 L383.01 174.71 L383.88 175.62 L384.75 176.52 L385.62 177.43 L386.49 178.33 L387.36 179.23 L388.23 180.13 L389.11 181.03 L389.98 181.93 L390.86 182.83 L391.74 183.72 L392.62 184.62 L393.50 185.51 L394.38 186.40 L395.26 187.29 L396.15 188.18 L397.03 189.07 L397.92 189.96 L398.81 190.84 L399.70 191.73 L400.59 192.61 L401.49 193.48 L402.39 194.36 L403.29 195.23 L404.19 196.10 L405.09 196.97 L406.00 197.83 L406.91 198.70 L407.83 199.55 L408.74 200.41 L409.67 201.26 L410.59 202.11 L411.52 202.95 L412.45 203.79 L413.38 204.62 L414.32 205.45 L415.26 206.28 L416.21 207.10 L417.16 207.91 L418.12 208.73 L419.08 209.53 L420.05 210.33 L421.02 211.13 L421.99 211.92 L422.97 212.70 L423.96 213.48 L424.95 214.25 L425.94 215.02 L426.94 215.78 L427.94 216.53 L428.95 217.28 L429.97 218.02 L430.99 218.76 L432.01 219.49 L433.04 220.21 L434.07 220.92 L435.11 221.63 L436.15 222.33 L437.20 223.02 L438.25 223.70 L439.31 224.38 L440.37 225.05 L441.44 225.71 L442.51 226.36 L443.59 227.01 L444.67 227.64 L445.76 228.27 L446.85 228.89 L447.94 229.50 L449.04 230.10 L450.15 230.70 L451.26 231.28 L452.37 231.85 L453.49 232.42 L454.61 232.98 L455.74 233.52 L456.87 234.06 L458.01 234.59 L459.15 235.11 L460.29 235.61 L461.44 236.11 L462.60 236.60 L463.76 237.07 L464.92 237.54 L466.09 237.99 L467.26 238.44 L468.44 238.87 L469.62 239.30 L470.81 239.71 L472.00 240.11 L473.20 240.50 L474.40 240.87 L475.60 241.24 L476.81 241.59 L478.02 241.94 L479.24 242.27 L480.46 242.58 L481.69 242.89 L482.92 243.18 L484.15 243.46 L485.39 243.73 L486.64 243.99" fill="none" stroke="#00BF7D" stroke-width="3.80" stroke-linejoin="round" stroke-linecap="butt" shape-rendering="crispEdges"/>
<path d="M117.83 531.82 L117.91 531.19 L118.00 530.56 L118.12 529.94 L118.24 529.31 L118.39 528.69 L118.54 528.07 L118.72 527.46 L118.90 526.84 L119.10 526.23 L119.32 525.62 L119.55 525.02 L119.79 524.42 L120.04 523.83 L120.31 523.24 L120.59 522.66 L120.89 522.08 L121.19 521.50 L121.51 520.94 L121.84 520.38 L122.18 519.83 L122.54 519.28 L122.90 518.74 L123.28 518.21 L123.67 517.69 L124.06 517.17 L124.47 516.67 L124.89 516.17 L125.32 515.68 L125.75 515.20 L126.20 514.74 L126.66 514.28 L127.12 513.83 L127.60 513.39 L128.08 512.97 L128.57 512.55 L129.07 512.15 L129.57 511.76 L130.09 511.38 L130.61 511.01 L131.14 510.65 L131.67 510.30 L132.22 509.97 L132.76 509.64 L133.32 509.33 L133.88 509.03 L134.45 508.74 L135.02 508.47 L135.59 508.21 L136.17 507.95 L136.76 507.71 L137.35 507.49 L137.95 507.27 L138.54 507.06 L139.15 506.86 L139.75 506.67 L140.36 506.49 L140.97 506.32 L141.59 506.15 L142.20 505.99 L142.82 505.83 L143.44 505.68 L144.07 505.54 L144.69 505.40 L145.31 505.26 L145.94 505.12 L146.57 504.99 L147.19 504.86 L147.82 504.73 L148.45 504.60 L149.08 504.47 L149.70 504.34 L150.33 504.21 L150.96 504.09 L151.59 503.96 L152.21 503.83 L152.84 503.71 L153.47 503.59 L154.10 503.47 L154.73 503.35 L155.36 503.23 L155.99 503.11 L156.62 502.99 L157.24 502.87 L157.87 502.75 L158.50 502.64 L159.13 502.52 L159.76 502.41 L160.39 502.29 L161.02 502.18 L161.65 502.07 L162.28 501.96 L162.91 501.85 L163.54 501.74 L164.18 501.63 L164.81 501.52 L165.44 501.41 L166.07 501.31 L166.70 501.20 L167.33 501.10 L167.96 500.99 L168.59 500.89 L169.23 500.79 L169.86 500.69 L170.49 500.58 L171.12 500.48 L171.75 500.38 L172.39 500.28 L173.02 500.19 L173.65 500.09 L174.28 499.99 L174.92 499.89 L175.55 499.80 L176.18 499.70 L176.81 499.61 L177.45 499.52 L178.08 499.42 L178.71 499.33 L179.35 499.24 L179.98 499.15 L180.62 499.06 L181.25 498.97 L181.88 498.88 L182.52 498.79 L183.15 498.70 L183.78 498.61 L184.42 498.52 L185.05 498.44 L185.69 498.35 L186.32 498.27 L186.96 498.18 L187.59 498.10 L188.23 498.01 L188.86 497.93 L189.50 497.85 L190.13 497.76 L190.77 497.68 L191.40 497.60 L192.04 497.52 L192.67 497.44 L193.31 497.36 L193.94 497.28 L194.58 497.20 L195.21 497.12 L195.85 497.04 L196.48 496.97 L197.12 496.89 L197.76 496.81 L198.39 496.74 L199.03 496.66 L199.66 496.59 L200.30 496.51 L200.93 496.44 L201.57 496.36 L202.21 496.29 L202.84 496.22 L203.48 496.14 L204.12 496.07 L204.75 496.00 L205.39 495.93 L206.03 495.85 L206.66 495.78 L207.30 495.71 L207.94 495.64 L208.57 495.57 L209.21 495.50 L209.85 495.43 L210.48 495.36 L211.12 495.29 L211.76 495.22 L212.39 495.16 L213.03 495.09 L213.67 495.02 L214.30 494.95 L214.94 494.88 L215.58 494.82 L216.21 494.75 L216.85 494.68 L217.49 494.62 L218.13 494.55 L218.76 494.49 L219.40 494.42 L220.04 494.35 L220.67 494.29 L221.31 494.22 L221.95 494.16 L222.59 494.09 L223.22 494.03 L223.86 493.96 L224.50 493.90 L225.14 493.84 L225.77 493.77 L226.41 493.71 L227.05 493.65 L227.69 493.58 L228.32 493.52 L228.96 493.46 L229.60 493.39 L230.24 493.33 L230.87 493.27 L231.51 493.20 L232.15 493.14 L232.79 493.08 L233.42 493.02 L234.06 492.96 L234.70 492.90 L235.34 492.83 L235.97 492.77 L236.61 492.71 L237.25 492.65 L237.89 492.59 L238.52 492.53 L239.16 492.47 L239.80 492.41 L240.44 492.35 L241.07 492.29 L241.71 492.23 L242.35 492.17 L242.99 492.11 L243.63 492.05 L244.26 491.99 L244.90 491.93 L245.54 491.87 L246.18 491.81 L246.81 491.76 L247.45 491.70 L248.09 491.64 L248.73 491.58 L249.37 491.52 L250.00 491.47 L250.64 491.41 L251.28 491.35 L251.92 491.29 L252.56 491.24 L253.19 491.18 L253.83 491.12 L254.47 491.07 L255.11 491.01 L255.75 490.95 L256.38 490.90 L257.02 490.84 L257.66 490.79 L258.30 490.73 L258.94 490.67 L259.57 490.62 L260.21 490.56 L260.85 490.51 L261.49 490.45 L262.13 490.40 L262.76 490.34 L263.40 490.29 L264.04 490.24 L264.68 490.18 L265.32 490.13 L265.95 490.07 L266.59 490.02 L267.23 489.97 L267.87 489.91 L268.51 489.86 L269.15 489.81 L269.78 489.76 L270.42 489.70 L271.06 489.65 L271.70 489.60 L272.34 489.55 L272.98 489.49 L273.61 489.44 L274.25 489.39 L274.89 489.34 L275.53 489.29 L276.17 489.24 L276.81 489.18 L277.44 489.13 L278.08 489.08 L278.72 489.03 L279.36 488.98 L280.00 488.93 L280.64 488.88 L281.27 488.83 L281.91 488.78 L282.55 488.73 L283.19 488.68 L283.83 488.63 L284.47 488.58 L285.11 488.53 L285.74 488.48 L286.38 488.43 L287.02 488.39 L287.66 488.34 L288.30 488.29 L288.94 488.24 L289.57 488.19 L290.21 488.14 L290.85 488.10 L291.49 488.05 L292.13 488.00 L292.77 487.95 L293.41 487.91 L294.05 487.86 L294.68 487.81 L295.32 487.77 L295.96 487.72 L296.60 487.67 L297.24 487.63 L297.88 487.58 L298.52 487.53 L299.15 487.49 L299.79 487.44 L300.43 487.40 L301.07 487.35 L301.71 487.31 L302.35 487.26 L302.99 487.22 L303.63 487.17 L304.27 487.13 L304.90 487.08 L305.54 487.04 L306.18 486.99 L306.82 486.95 L307.46 486.90 L308.10 486.86 L308.74 486.82 L309.38 486.77 L310.02 486.73 L310.65 486.69 L311.29 486.64 L311.93 486.60 L312.57 486.56 L313.21 486.51 L313.85 486.47 L314.49 486.43 L315.13 486.39 L315.77 486.34 L316.40 486.30 L317.04 486.26 L317.68 486.22 L318.32 486.18 L318.96 486.13 L319.60 486.09 L320.24 486.05 L320.88 486.01 L321.52 485.97 L322.16 485.93 L322.79 485.89 L323.43 485.85 L324.07 485.81 L324.71 485.77 L325.35 485.73 L325.99 485.69 L326.63 485.65 L327.27 485.61 L327.91 485.57 L328.55 485.53 L329.19 485.49 L329.83 485.45 L330.46 485.41 L331.10 485.37 L331.74 485.33 L332.38 485.29 L333.02 485.26 L333.66 485.22 L334.30 485.18 L334.94 485.14 L335.58 485.10 L336.22 485.07 L336.86 485.03 L337.50 484.99 L338.14 484.95 L338.77 484.92 L339.41 484.88 L340.05 484.84 L340.69 484.80 L341.33 484.77 L341.97 484.73 L342.61 484.69 L343.25 484.66 L343.89 484.62 L344.53 484.59 L345.17 484.55 L345.81 484.51 L346.45 484.48 L347.09 484.44 L347.73 484.41 L348.37 484.37 L349.00 484.34 L349.64 484.30 L350.28 484.27 L350.92 484.23 L351.56 484.20 L352.20 484.16 L352.84 484.13 L353.48 484.09 L354.12 484.06 L354.76 484.03 L355.40 483.99 L356.04 483.96 L356.68 483.93 L357.32 483.89 L357.96 483.86 L358.60 483.83 L359.24 483.79 L359.88 483.76 L360.52 483.73 L361.15 483.69 L361.79 483.66 L362.43 483.63 L363.07 483.60 L363.71 483.56 L364.35 483.53 L364.99 483.50 L365.63 483.47 L366.27 483.44 L366.91 483.41 L367.55 483.37 L368.19 483.34 L368.83 483.31 L369.47 483.28 L370.11 483.25 L370.75 483.22 L371.39 483.19 L372.03 483.16 L372.67 483.13 L373.31 483.10 L373.95 483.07 L374.59 483.04 L375.23 483.01 L375.87 482.98 L376.51 482.95 L377.15 482.92 L377.79 482.89 L378.43 482.86 L379.06 482.83 L379.70 482.80 L380.34 482.77 L380.98 482.74 L381.62 482.71 L382.26 482.68 L382.90 482.66 L383.54 482.63 L384.18 482.60 L384.82 482.57 L385.46 482.54 L386.10 482.52 L386.74 482.49 L387.38 482.46 L388.02 482.43 L388.66 482.41 L389.30 482.38 L389.94 482.35 L390.58 482.32 L391.22 482.30 L391.86 482.27 L392.50 482.24 L393.14 482.22 L393.78 482.19 L394.42 482.16 L395.06 482.14 L395.70 482.11 L396.34 482.09 L396.98 482.06 L397.62 482.03 L398.26 482.01 L398.90 481.98 L399.54 481.96 L400.18 481.93 L400.82 481.91 L401.46 481.88 L402.10 481.86 L402.74 481.83 L403.38 481.81 L404.02 481.78 L404.66 481.76 L405.30 481.74 L405.94 481.71 L406.58 481.69 L407.22 481.66 L407.86 481.64 L408.50 481.62 L409.14 481.59 L409.78 481.57 L410.42 481.54 L411.06 481.52 L411.70 481.50 L412.34 481.48 L412.98 481.45 L413.62 481.43 L414.26 481.41 L414.90 481.38 L415.54 481.36 L416.18 481.34 L416.82 481.32 L417.46 481.29 L418.10 481.27 L418.74 481.25 L419.38 481.23 L420.02 481.21 L420.66 481.19 L421.30 481.16 L421.94 481.14 L422.58 481.12 L423.22 481.10 L423.86 481.08 L424.50 481.06 L425.14 481.04 L425.78 481.02 L426.42 481.00 L427.06 480.98 L427.70 480.95 L428.34 480.93 L428.98 480.91 L429.62 480.89 L430.26 480.87 L430.90 480.85 L431.54 480.83 L432.18 480.81 L432.82 480.80 L433.46 480.78 L434.10 480.76 L434.74 480.74 L435.38 480.72 L436.02 480.70 L436.66 480.68 L437.30 480.66 L437.94 480.64 L438.58 480.62 L439.22 480.61 L439.86 480.59 L440.50 480.57 L441.14 480.55 L441.78 480.53 L442.42 480.51 L443.06 480.50 L443.70 480.48 L444.34 480.46 L444.98 480.44 L445.62 480.43 L446.26 480.41 L446.90 480.39 L447.54 480.37 L448.18 480.36 L448.82 480.34 L449.46 480.32 L450.10 480.31 L450.74 480.29 L451.38 480.27 L452.02 480.26 L452.67 480.24 L453.31 480.22 L453.95 480.21 L454.59 480.19 L455.23 480.18 L455.87 480.16 L456.51 480.15 L457.15 480.13 L457.79 480.11 L458.43 480.10 L459.07 480.08 L459.71 480.07 L460.35 480.05 L460.99 480.04 L461.63 480.02 L462.27 480.01 L462.91 479.99 L463.55 479.98 L464.19 479.96 L464.83 479.95 L465.47 479.94 L466.11 479.92 L466.75 479.91 L467.39 479.89 L468.03 479.88 L468.67 479.87 L469.31 479.85 L469.95 479.84 L470.59 479.82 L471.23 479.81 L471.87 479.80 L472.51 479.78 L473.15 479.77 L473.79 479.76 L474.43 479.75 L475.07 479.73 L475.71 479.72 L476.35 479.71 L476.99 479.69 L477.63 479.68 L478.27 479.67 L478.91 479.66 L479.56 479.64 L480.20 479.63 L480.84 479.62 L481.48 479.61 L482.12 479.60 L482.76 479.58 L483.40 479.57 L484.04 479.56 L484.68 479.55 L485.32 479.54 L485.96 479.53 L486.60 479.52" fill="none" stroke="#00B0F6" stroke-width="3.80" stroke-linejoin="round" stroke-linecap="butt" shape-rendering="crispEdges"/>
<path d="M117.91 532.30 L118.13 532.98 L118.34 533.67 L118.56 534.35 L118.77 535.04 L118.98 535.72 L119.19 536.40 L119.40 537.08 L119.61 537.76 L119.82 538.44 L120.03 539.12 L120.24 539.80 L120.45 540.47 L120.66 541.15 L120.87 541.82 L121.07 542.50 L121.28 543.17 L121.49 543.84 L121.69 544.51 L121.90 545.18 L122.11 545.85 L122.31 546.52 L122.52 547.19 L122.72 547.85 L122.93 548.52 L123.14 549.18 L123.34 549.85 L123.55 550.51 L123.75 551.18 L123.96 551.84 L124.17 552.50 L124.38 553.16 L124.58 553.83 L124.79 554.49 L125.00 555.15 L125.21 555.81 L125.42 556.47 L125.63 557.13 L125.84 557.79 L126.05 558.44 L126.26 559.10 L126.47 559.76 L126.69 560.42 L126.90 561.08 L127.12 561.73 L127.33 562.39 L127.55 563.05 L127.77 563.70 L127.98 564.36 L128.20 565.01 L128.43 565.67 L128.65 566.33 L128.87 566.98 L129.09 567.64 L129.32 568.29 L129.55 568.95 L129.77 569.61 L130.00 570.26 L130.23 570.92 L130.47 571.57 L130.70 572.23 L130.94 572.88 L131.17 573.54 L131.41 574.20 L131.65 574.85 L131.89 575.51 L132.14 576.17 L132.38 576.82 L132.63 577.48 L132.88 578.14 L133.13 578.80 L133.38 579.45 L133.63 580.11 L133.89 580.77 L134.15 581.43 L134.41 582.09 L134.67 582.75 L134.94 583.41 L135.20 584.07 L135.47 584.73 L135.75 585.40 L136.02 586.06 L136.30 586.72 L136.57 587.39 L136.86 588.05 L137.14 588.71 L137.43 589.38 L137.72 590.04 L138.02 590.70 L138.32 591.35 L138.63 592.01 L138.94 592.66 L139.26 593.31 L139.59 593.95 L139.92 594.59 L140.26 595.22 L140.61 595.85 L140.97 596.48 L141.34 597.10 L141.71 597.71 L142.10 598.31 L142.49 598.91 L142.90 599.50 L143.31 600.08 L143.74 600.65 L144.18 601.21 L144.63 601.76 L145.09 602.30 L145.56 602.84 L146.05 603.35 L146.54 603.86 L147.05 604.35 L147.56 604.83 L148.09 605.29 L148.63 605.74 L149.17 606.17 L149.72 606.58 L150.29 606.98 L150.86 607.35 L151.43 607.71 L152.02 608.04 L152.61 608.36 L153.21 608.65 L153.82 608.92 L154.43 609.16 L155.05 609.39 L155.67 609.60 L156.30 609.79 L156.94 609.96 L157.58 610.12 L158.22 610.25 L158.87 610.37 L159.53 610.48 L160.19 610.57 L160.86 610.65 L161.52 610.71 L162.20 610.76 L162.87 610.80 L163.55 610.82 L164.24 610.84 L164.92 610.85 L165.61 610.84 L166.31 610.83 L167.00 610.81 L167.70 610.79 L168.40 610.75 L169.10 610.71 L169.80 610.67 L170.50 610.62 L171.21 610.56 L171.92 610.51 L172.62 610.45 L173.33 610.39 L174.04 610.32 L174.75 610.26 L175.46 610.20 L176.17 610.13 L176.87 610.07 L177.58 610.01 L178.29 609.95 L179.00 609.89 L179.71 609.83 L180.41 609.78 L181.12 609.72 L181.83 609.66 L182.54 609.61 L183.24 609.55 L183.95 609.50 L184.66 609.45 L185.36 609.39 L186.07 609.34 L186.78 609.29 L187.48 609.24 L188.19 609.19 L188.89 609.14 L189.60 609.09 L190.31 609.05 L191.01 609.00 L191.72 608.95 L192.42 608.91 L193.13 608.86 L193.83 608.82 L194.54 608.78 L195.24 608.73 L195.95 608.69 L196.65 608.65 L197.35 608.61 L198.06 608.57 L198.76 608.53 L199.47 608.49 L200.17 608.45 L200.88 608.41 L201.58 608.38 L202.28 608.34 L202.99 608.30 L203.69 608.27 L204.39 608.23 L205.10 608.20 L205.80 608.17 L206.50 608.13 L207.20 608.10 L207.91 608.07 L208.61 608.04 L209.31 608.01 L210.01 607.98 L210.72 607.95 L211.42 607.92 L212.12 607.89 L212.82 607.86 L213.53 607.84 L214.23 607.81 L214.93 607.78 L215.63 607.76 L216.33 607.73 L217.03 607.71 L217.74 607.69 L218.44 607.66 L219.14 607.64 L219.84 607.62 L220.54 607.59 L221.24 607.57 L221.94 607.55 L222.64 607.53 L223.34 607.51 L224.04 607.49 L224.74 607.47 L225.44 607.45 L226.15 607.43 L226.85 607.42 L227.55 607.40 L228.25 607.38 L228.95 607.36 L229.65 607.35 L230.35 607.33 L231.05 607.32 L231.75 607.30 L232.45 607.29 L233.15 607.27 L233.85 607.26 L234.55 607.25 L235.24 607.23 L235.94 607.22 L236.64 607.21 L237.34 607.20 L238.04 607.19 L238.74 607.17 L239.44 607.16 L240.14 607.15 L240.84 607.14 L241.54 607.13 L242.24 607.12 L242.94 607.12 L243.64 607.11 L244.33 607.10 L245.03 607.09 L245.73 607.08 L246.43 607.08 L247.13 607.07 L247.83 607.06 L248.53 607.05 L249.23 607.05 L249.92 607.04 L250.62 607.04 L251.32 607.03 L252.02 607.03 L252.72 607.02 L253.42 607.02 L254.11 607.01 L254.81 607.01 L255.51 607.01 L256.21 607.00 L256.91 607.00 L257.61 606.99 L258.30 606.99 L259.00 606.99 L259.70 606.99 L260.40 606.98 L261.10 606.98 L261.80 606.98 L262.49 606.98 L263.19 606.98 L263.89 606.98 L264.59 606.98 L265.29 606.97 L265.98 606.97 L266.68 606.97 L267.38 606.97 L268.08 606.97 L268.78 606.97 L269.47 606.97 L270.17 606.97 L270.87 606.97 L271.57 606.97 L272.27 606.98 L272.96 606.98 L273.66 606.98 L274.36 606.98 L275.06 606.98 L275.76 606.98 L276.46 606.98 L277.15 606.98 L277.85 606.98 L278.55 606.99 L279.25 606.99 L279.95 606.99 L280.64 606.99 L281.34 606.99 L282.04 607.00 L282.74 607.00 L283.44 607.00 L284.14 607.00 L284.83 607.00 L285.53 607.01 L286.23 607.01 L286.93 607.01 L287.63 607.01 L288.33 607.02 L289.02 607.02 L289.72 607.02 L290.42 607.02 L291.12 607.03 L291.82 607.03 L292.52 607.03 L293.21 607.03 L293.91 607.04 L294.61 607.04 L295.31 607.04 L296.01 607.04 L296.71 607.04 L297.41 607.05 L298.11 607.05 L298.81 607.05 L299.50 607.05 L300.20 607.05 L300.90 607.06 L301.60 607.06 L302.30 607.06 L303.00 607.06 L303.70 607.06 L304.40 607.07 L305.10 607.07 L305.80 607.07 L306.50 607.07 L307.20 607.07 L307.90 607.07 L308.60 607.07 L309.30 607.08 L310.00 607.08 L310.70 607.08 L311.39 607.08 L312.09 607.08 L312.79 607.08 L313.49 607.08 L314.19 607.08 L314.89 607.08 L315.59 607.08 L316.29 607.09 L316.99 607.09 L317.69 607.09 L318.39 607.09 L319.10 607.09 L319.80 607.09 L320.50 607.09 L321.20 607.09 L321.90 607.09 L322.60 607.09 L323.30 607.09 L324.00 607.09 L324.70 607.09 L325.40 607.09 L326.10 607.09 L326.80 607.09 L327.50 607.09 L328.20 607.09 L328.90 607.09 L329.60 607.09 L330.30 607.09 L331.00 607.09 L331.70 607.09 L332.41 607.09 L333.11 607.09 L333.81 607.09 L334.51 607.09 L335.21 607.09 L335.91 607.09 L336.61 607.09 L337.31 607.09 L338.01 607.09 L338.71 607.09 L339.42 607.09 L340.12 607.09 L340.82 607.09 L341.52 607.09 L342.22 607.09 L342.92 607.09 L343.62 607.09 L344.32 607.09 L345.03 607.09 L345.73 607.09 L346.43 607.09 L347.13 607.09 L347.83 607.09 L348.53 607.09 L349.23 607.09 L349.94 607.09 L350.64 607.09 L351.34 607.09 L352.04 607.09 L352.74 607.09 L353.44 607.09 L354.14 607.09 L354.85 607.09 L355.55 607.09 L356.25 607.09 L356.95 607.09 L357.65 607.09 L358.35 607.09 L359.06 607.09 L359.76 607.09 L360.46 607.09 L361.16 607.09 L361.86 607.09 L362.56 607.09 L363.27 607.09 L363.97 607.09 L364.67 607.09 L365.37 607.09 L366.07 607.09 L366.77 607.09 L367.48 607.09 L368.18 607.09 L368.88 607.09 L369.58 607.09 L370.28 607.09 L370.98 607.09 L371.69 607.09 L372.39 607.09 L373.09 607.09 L373.79 607.09 L374.49 607.09 L375.20 607.09 L375.90 607.09 L376.60 607.09 L377.30 607.09 L378.00 607.09 L378.71 607.09 L379.41 607.09 L380.11 607.10 L380.81 607.10 L381.51 607.10 L382.21 607.10 L382.92 607.10 L383.62 607.10 L384.32 607.10 L385.02 607.10 L385.72 607.10 L386.43 607.10 L387.13 607.11 L387.83 607.11 L388.53 607.11 L389.23 607.11 L389.93 607.11 L390.64 607.11 L391.34 607.11 L392.04 607.12 L392.74 607.12 L393.44 607.12 L394.15 607.12 L394.85 607.12 L395.55 607.12 L396.25 607.13 L396.95 607.13 L397.65 607.13 L398.36 607.13 L399.06 607.14 L399.76 607.14 L400.46 607.14 L401.16 607.14 L401.86 607.15 L402.57 607.15 L403.27 607.15 L403.97 607.15 L404.67 607.16 L405.37 607.16 L406.07 607.16 L406.78 607.17 L407.48 607.17 L408.18 607.17 L408.88 607.18 L409.58 607.18 L410.28 607.18 L410.98 607.19 L411.69 607.19 L412.39 607.19 L413.09 607.20 L413.79 607.20 L414.49 607.20 L415.19 607.21 L415.89 607.21 L416.60 607.22 L417.30 607.22 L418.00 607.23 L418.70 607.23 L419.40 607.24 L420.10 607.24 L420.80 607.25 L421.50 607.25 L422.21 607.26 L422.91 607.26 L423.61 607.27 L424.31 607.27 L425.01 607.28 L425.71 607.28 L426.41 607.29 L427.11 607.29 L427.81 607.30 L428.51 607.31 L429.22 607.31 L429.92 607.32 L430.62 607.32 L431.32 607.33 L432.02 607.34 L432.72 607.34 L433.42 607.35 L434.12 607.36 L434.82 607.36 L435.52 607.37 L436.22 607.38 L436.92 607.39 L437.62 607.39 L438.32 607.40 L439.02 607.41 L439.72 607.42 L440.42 607.42 L441.13 607.43 L441.83 607.44 L442.53 607.45 L443.23 607.46 L443.93 607.47 L444.63 607.47 L445.33 607.48 L446.03 607.49 L446.73 607.50 L447.43 607.51 L448.13 607.52 L448.83 607.53 L449.53 607.54 L450.23 607.55 L450.93 607.56 L451.63 607.57 L452.33 607.58 L453.02 607.59 L453.72 607.60 L454.42 607.61 L455.12 607.62 L455.82 607.63 L456.52 607.64 L457.22 607.65 L457.92 607.67 L458.62 607.68 L459.32 607.69 L460.02 607.70 L460.72 607.71 L461.42 607.73 L462.12 607.74 L462.81 607.75 L463.51 607.76 L464.21 607.78 L464.91 607.79 L465.61 607.80 L466.31 607.81 L467.01 607.83 L467.71 607.84 L468.41 607.85 L469.10 607.87 L469.80 607.88 L470.50 607.90 L471.20 607.91 L471.90 607.93 L472.60 607.94 L473.29 607.96 L473.99 607.97 L474.69 607.99 L475.39 608.00 L476.09 608.02 L476.78 608.03 L477.48 608.05 L478.18 608.06 L478.88 608.08 L479.58 608.10 L480.27 608.11 L480.97 608.13 L481.67 608.15 L482.37 608.16 L483.06 608.18 L483.76 608.20 L484.46 608.22 L485.15 608.23 L485.85 608.25 L486.55 608.27" fill="none" stroke="#E76BF3" stroke-width="3.80" stroke-linejoin="round" stroke-linecap="butt" shape-rendering="crispEdges"/>
<path d="M99.75 35.2 V638.25 H504" fill="none" stroke="#000" stroke-width="1.5"/>
<g stroke="#000" stroke-width="1.3"><line x1="99.5" y1="626.53" x2="104.50" y2="626.53"/><line x1="99.5" y1="616.05" x2="108.50" y2="616.05"/><line x1="99.5" y1="607.49" x2="104.50" y2="607.49"/><line x1="99.5" y1="600.25" x2="104.50" y2="600.25"/><line x1="99.5" y1="593.98" x2="104.50" y2="593.98"/><line x1="99.5" y1="588.45" x2="104.50" y2="588.45"/><line x1="99.5" y1="583.50" x2="113.00" y2="583.50"/><line x1="99.5" y1="550.95" x2="104.50" y2="550.95"/><line x1="99.5" y1="531.90" x2="104.50" y2="531.90"/><line x1="99.5" y1="518.39" x2="104.50" y2="518.39"/><line x1="99.5" y1="507.91" x2="108.50" y2="507.91"/><line x1="99.5" y1="499.35" x2="104.50" y2="499.35"/><line x1="99.5" y1="492.11" x2="104.50" y2="492.11"/><line x1="99.5" y1="485.84" x2="104.50" y2="485.84"/><line x1="99.5" y1="480.31" x2="104.50" y2="480.31"/><line x1="99.5" y1="475.30" x2="113.00" y2="475.30"/><line x1="99.5" y1="442.75" x2="104.50" y2="442.75"/><line x1="99.5" y1="423.70" x2="104.50" y2="423.70"/><line x1="99.5" y1="410.19" x2="104.50" y2="410.19"/><line x1="99.5" y1="399.71" x2="108.50" y2="399.71"/><line x1="99.5" y1="391.15" x2="104.50" y2="391.15"/><line x1="99.5" y1="383.91" x2="104.50" y2="383.91"/><line x1="99.5" y1="377.64" x2="104.50" y2="377.64"/><line x1="99.5" y1="372.11" x2="104.50" y2="372.11"/><line x1="99.5" y1="366.90" x2="113.00" y2="366.90"/><line x1="99.5" y1="334.35" x2="104.50" y2="334.35"/><line x1="99.5" y1="315.30" x2="104.50" y2="315.30"/><line x1="99.5" y1="301.79" x2="104.50" y2="301.79"/><line x1="99.5" y1="291.31" x2="108.50" y2="291.31"/><line x1="99.5" y1="282.75" x2="104.50" y2="282.75"/><line x1="99.5" y1="275.51" x2="104.50" y2="275.51"/><line x1="99.5" y1="269.24" x2="104.50" y2="269.24"/><line x1="99.5" y1="263.71" x2="104.50" y2="263.71"/><line x1="99.5" y1="258.50" x2="113.00" y2="258.50"/><line x1="99.5" y1="225.95" x2="104.50" y2="225.95"/><line x1="99.5" y1="206.90" x2="104.50" y2="206.90"/><line x1="99.5" y1="193.39" x2="104.50" y2="193.39"/><line x1="99.5" y1="182.91" x2="108.50" y2="182.91"/><line x1="99.5" y1="174.35" x2="104.50" y2="174.35"/><line x1="99.5" y1="167.11" x2="104.50" y2="167.11"/><line x1="99.5" y1="160.84" x2="104.50" y2="160.84"/><line x1="99.5" y1="155.31" x2="104.50" y2="155.31"/><line x1="99.5" y1="150.30" x2="113.00" y2="150.30"/><line x1="99.5" y1="117.75" x2="104.50" y2="117.75"/><line x1="99.5" y1="98.70" x2="104.50" y2="98.70"/><line x1="99.5" y1="85.19" x2="104.50" y2="85.19"/><line x1="99.5" y1="74.71" x2="108.50" y2="74.71"/><line x1="99.5" y1="66.15" x2="104.50" y2="66.15"/><line x1="99.5" y1="58.91" x2="104.50" y2="58.91"/><line x1="99.5" y1="52.64" x2="104.50" y2="52.64"/><line x1="99.5" y1="47.11" x2="104.50" y2="47.11"/><line x1="99.5" y1="43.20" x2="113.00" y2="43.20"/></g>
<g font-family="Liberation Sans, sans-serif" font-size="17.5" fill="#4D4D4D"><text x="88.6" y="50.60" text-anchor="end" font-size="17.2">100,000</text><text x="88.6" y="265.90" text-anchor="end" font-size="17.2">1,000</text><text x="88.6" y="482.70" text-anchor="end" font-size="17.2">10</text><text x="117.50" y="663.8" text-anchor="middle">0</text><text x="191.42" y="663.8" text-anchor="middle">10</text><text x="265.34" y="663.8" text-anchor="middle">20</text><text x="339.26" y="663.8" text-anchor="middle">30</text><text x="413.18" y="663.8" text-anchor="middle">40</text><text x="487.10" y="663.8" text-anchor="middle">50</text></g>
<text font-family="Liberation Sans, sans-serif" font-size="22.4" letter-spacing="0.28" fill="#000" x="302.0" y="689.8" text-anchor="middle">Time (months)</text>
<text font-family="Liberation Sans, sans-serif" font-size="22.4" letter-spacing="0.28" fill="#000" transform="translate(18.2 337.2) rotate(-90)" text-anchor="middle">Number of infected individuals</text>
<text font-family="Liberation Sans, sans-serif" font-size="27.85" font-weight="bold" fill="#000" x="21.0" y="19.9">Baseline simulation for HIV infected group</text>
<text font-family="Liberation Sans, sans-serif" font-size="22.4" letter-spacing="0.28" fill="#000" x="537.8" y="272.2">Infected group</text>
<line x1="540" y1="299.0" x2="563" y2="299.0" stroke="#F8766D" stroke-width="3.80" shape-rendering="crispEdges"/><text font-family="Liberation Sans, sans-serif" font-size="17.5" fill="#000" x="575" y="306.7">A</text><line x1="540" y1="326.4" x2="563" y2="326.4" stroke="#A3A500" stroke-width="3.80" shape-rendering="crispEdges"/><text font-family="Liberation Sans, sans-serif" font-size="17.5" fill="#000" x="575" y="334.1">Ia</text><line x1="540" y1="353.8" x2="563" y2="353.8" stroke="#00BF7D" stroke-width="3.80" shape-rendering="crispEdges"/><text font-family="Liberation Sans, sans-serif" font-size="17.5" fill="#000" x="575" y="361.5">Ib</text><line x1="540" y1="381.2" x2="563" y2="381.2" stroke="#00B0F6" stroke-width="3.80" shape-rendering="crispEdges"/><text font-family="Liberation Sans, sans-serif" font-size="17.5" fill="#000" x="575" y="388.9">R</text><line x1="540" y1="408.6" x2="563" y2="408.6" stroke="#E76BF3" stroke-width="3.80" shape-rendering="crispEdges"/><text font-family="Liberation Sans, sans-serif" font-size="17.5" fill="#000" x="575" y="416.3">T</text></svg>
</body></html>
